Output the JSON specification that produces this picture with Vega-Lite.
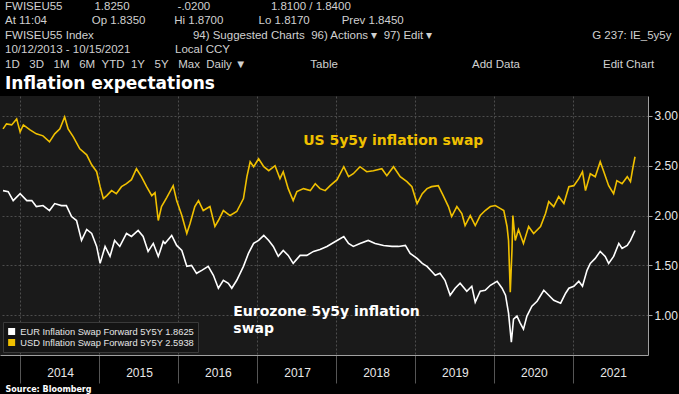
{
  "$schema": "https://vega.github.io/schema/vega-lite/v6.json",
  "width": 648,
  "height": 259,
  "autosize": {"type": "none"},
  "padding": {"left": 0, "top": 96, "right": 31, "bottom": 39},
  "background": "#000000",
  "view": {"fill": "#1a1a1a", "stroke": null},
  "title": {
    "text": [
      "\u00a0\u00a0FWISEU55\u00a0\u00a0\u00a0\u00a0\u00a0\u00a0\u00a0\u00a0\u00a0\u00a01.8250\u00a0\u00a0\u00a0\u00a0\u00a0\u00a0\u00a0\u00a0\u00a0\u00a0\u00a0\u00a0\u00a0\u00a0\u00a0-.0200\u00a0\u00a0\u00a0\u00a0\u00a0\u00a0\u00a0\u00a0\u00a0\u00a0\u00a0\u00a0\u00a0\u00a0\u00a0\u00a0\u00a0\u00a0\u00a01.8100 / 1.8400",
      "\u00a0\u00a0At 11:04\u00a0\u00a0\u00a0\u00a0\u00a0\u00a0\u00a0\u00a0\u00a0\u00a0\u00a0\u00a0\u00a0\u00a0Op 1.8350\u00a0\u00a0\u00a0\u00a0\u00a0\u00a0\u00a0\u00a0\u00a0Hi 1.8700\u00a0\u00a0\u00a0\u00a0\u00a0\u00a0\u00a0\u00a0\u00a0\u00a0\u00a0Lo 1.8170\u00a0\u00a0\u00a0\u00a0\u00a0\u00a0\u00a0\u00a0\u00a0\u00a0Prev 1.8450",
      "FWISEU55 Index\u00a0\u00a0\u00a0\u00a0\u00a0\u00a0\u00a0\u00a0\u00a0\u00a0\u00a0\u00a0\u00a0\u00a0\u00a0\u00a0\u00a0\u00a0\u00a0\u00a0\u00a0\u00a0\u00a0\u00a0\u00a0\u00a0\u00a0\u00a0\u00a0\u00a0\u00a094) Suggested Charts\u00a0\u00a096) Actions \u25be\u00a0\u00a097) Edit \u25be\u00a0\u00a0\u00a0\u00a0\u00a0\u00a0\u00a0\u00a0\u00a0\u00a0\u00a0\u00a0\u00a0\u00a0\u00a0\u00a0\u00a0\u00a0\u00a0\u00a0\u00a0\u00a0\u00a0\u00a0\u00a0\u00a0\u00a0\u00a0\u00a0\u00a0\u00a0\u00a0\u00a0\u00a0\u00a0\u00a0\u00a0\u00a0\u00a0\u00a0\u00a0\u00a0\u00a0\u00a0\u00a0\u00a0\u00a0\u00a0\u00a0\u00a0G 237: IE_5y5y",
      "10/12/2013 - 10/15/2021\u00a0\u00a0\u00a0\u00a0\u00a0\u00a0\u00a0\u00a0\u00a0\u00a0\u00a0\u00a0\u00a0\u00a0Local CCY",
      "\u00a01D\u00a0\u00a0\u00a03D\u00a0\u00a0\u00a01M\u00a0\u00a0\u00a06M\u00a0\u00a0YTD\u00a0\u00a01Y\u00a0\u00a0\u00a05Y\u00a0\u00a0\u00a0Max\u00a0\u00a0Daily \u25bc\u00a0\u00a0\u00a0\u00a0\u00a0\u00a0\u00a0\u00a0\u00a0\u00a0\u00a0\u00a0\u00a0\u00a0\u00a0\u00a0\u00a0\u00a0\u00a0\u00a0Table\u00a0\u00a0\u00a0\u00a0\u00a0\u00a0\u00a0\u00a0\u00a0\u00a0\u00a0\u00a0\u00a0\u00a0\u00a0\u00a0\u00a0\u00a0\u00a0\u00a0\u00a0\u00a0\u00a0\u00a0\u00a0\u00a0\u00a0\u00a0\u00a0\u00a0\u00a0\u00a0\u00a0\u00a0\u00a0\u00a0\u00a0\u00a0\u00a0\u00a0\u00a0\u00a0Add Data\u00a0\u00a0\u00a0\u00a0\u00a0\u00a0\u00a0\u00a0\u00a0\u00a0\u00a0\u00a0\u00a0\u00a0\u00a0\u00a0\u00a0\u00a0\u00a0\u00a0\u00a0\u00a0\u00a0\u00a0\u00a0\u00a0Edit Chart"
    ],
    "subtitle": "Inflation expectations",
    "anchor": "start",
    "frame": "group",
    "orient": "top",
    "offset": 4,
    "dx": 5,
    "font": "Liberation Sans",
    "fontSize": 11.5,
    "fontWeight": "normal",
    "color": "#d0d0d0",
    "lineHeight": 14.5,
    "subtitleFont": "DejaVu Sans",
    "subtitleFontSize": 17,
    "subtitleFontWeight": "bold",
    "subtitleColor": "#ffffff",
    "subtitlePadding": 6
  },
  "datasets": {
    "series": [
      {"series": "USD", "date": "2013-10-14", "value": 2.87},
      {"series": "USD", "date": "2013-10-30", "value": 2.92},
      {"series": "USD", "date": "2013-11-23", "value": 2.91},
      {"series": "USD", "date": "2013-12-16", "value": 2.97},
      {"series": "USD", "date": "2014-01-01", "value": 2.84},
      {"series": "USD", "date": "2014-01-16", "value": 2.91},
      {"series": "USD", "date": "2014-02-16", "value": 2.86},
      {"series": "USD", "date": "2014-03-17", "value": 2.82},
      {"series": "USD", "date": "2014-04-17", "value": 2.80},
      {"series": "USD", "date": "2014-05-17", "value": 2.74},
      {"series": "USD", "date": "2014-06-10", "value": 2.82},
      {"series": "USD", "date": "2014-07-04", "value": 2.87},
      {"series": "USD", "date": "2014-07-26", "value": 2.99},
      {"series": "USD", "date": "2014-08-11", "value": 2.87},
      {"series": "USD", "date": "2014-09-04", "value": 2.79},
      {"series": "USD", "date": "2014-10-04", "value": 2.67},
      {"series": "USD", "date": "2014-11-05", "value": 2.61},
      {"series": "USD", "date": "2014-11-28", "value": 2.51},
      {"series": "USD", "date": "2014-12-21", "value": 2.44},
      {"series": "USD", "date": "2015-01-06", "value": 2.29},
      {"series": "USD", "date": "2015-01-21", "value": 2.17},
      {"series": "USD", "date": "2015-02-06", "value": 2.20},
      {"series": "USD", "date": "2015-02-28", "value": 2.25},
      {"series": "USD", "date": "2015-03-22", "value": 2.22},
      {"series": "USD", "date": "2015-04-15", "value": 2.29},
      {"series": "USD", "date": "2015-05-08", "value": 2.32},
      {"series": "USD", "date": "2015-05-31", "value": 2.36},
      {"series": "USD", "date": "2015-06-23", "value": 2.47},
      {"series": "USD", "date": "2015-07-16", "value": 2.39},
      {"series": "USD", "date": "2015-08-09", "value": 2.29},
      {"series": "USD", "date": "2015-09-02", "value": 2.20},
      {"series": "USD", "date": "2015-09-17", "value": 2.23},
      {"series": "USD", "date": "2015-10-02", "value": 1.95},
      {"series": "USD", "date": "2015-10-17", "value": 2.09},
      {"series": "USD", "date": "2015-11-02", "value": 2.15},
      {"series": "USD", "date": "2015-11-10", "value": 2.18},
      {"series": "USD", "date": "2015-12-10", "value": 2.30},
      {"series": "USD", "date": "2015-12-26", "value": 2.15},
      {"series": "USD", "date": "2016-01-19", "value": 2.00},
      {"series": "USD", "date": "2016-02-11", "value": 1.82},
      {"series": "USD", "date": "2016-02-26", "value": 1.92},
      {"series": "USD", "date": "2016-03-19", "value": 2.09},
      {"series": "USD", "date": "2016-04-05", "value": 2.15},
      {"series": "USD", "date": "2016-04-27", "value": 2.05},
      {"series": "USD", "date": "2016-05-28", "value": 2.09},
      {"series": "USD", "date": "2016-06-20", "value": 1.89},
      {"series": "USD", "date": "2016-07-06", "value": 1.95},
      {"series": "USD", "date": "2016-07-29", "value": 2.05},
      {"series": "USD", "date": "2016-08-29", "value": 2.00},
      {"series": "USD", "date": "2016-09-29", "value": 2.04},
      {"series": "USD", "date": "2016-10-30", "value": 2.17},
      {"series": "USD", "date": "2016-11-15", "value": 2.39},
      {"series": "USD", "date": "2016-11-30", "value": 2.54},
      {"series": "USD", "date": "2016-12-16", "value": 2.49},
      {"series": "USD", "date": "2017-01-08", "value": 2.57},
      {"series": "USD", "date": "2017-02-01", "value": 2.49},
      {"series": "USD", "date": "2017-02-24", "value": 2.45},
      {"series": "USD", "date": "2017-03-25", "value": 2.50},
      {"series": "USD", "date": "2017-04-17", "value": 2.37},
      {"series": "USD", "date": "2017-05-02", "value": 2.44},
      {"series": "USD", "date": "2017-05-25", "value": 2.27},
      {"series": "USD", "date": "2017-06-17", "value": 2.15},
      {"series": "USD", "date": "2017-07-04", "value": 2.24},
      {"series": "USD", "date": "2017-08-04", "value": 2.27},
      {"series": "USD", "date": "2017-09-04", "value": 2.25},
      {"series": "USD", "date": "2017-09-27", "value": 2.32},
      {"series": "USD", "date": "2017-10-19", "value": 2.27},
      {"series": "USD", "date": "2017-11-12", "value": 2.25},
      {"series": "USD", "date": "2017-12-05", "value": 2.30},
      {"series": "USD", "date": "2018-01-06", "value": 2.36},
      {"series": "USD", "date": "2018-02-06", "value": 2.49},
      {"series": "USD", "date": "2018-02-28", "value": 2.39},
      {"series": "USD", "date": "2018-03-22", "value": 2.42},
      {"series": "USD", "date": "2018-04-22", "value": 2.49},
      {"series": "USD", "date": "2018-05-23", "value": 2.44},
      {"series": "USD", "date": "2018-06-23", "value": 2.45},
      {"series": "USD", "date": "2018-08-01", "value": 2.47},
      {"series": "USD", "date": "2018-08-24", "value": 2.40},
      {"series": "USD", "date": "2018-09-24", "value": 2.49},
      {"series": "USD", "date": "2018-10-25", "value": 2.39},
      {"series": "USD", "date": "2018-11-25", "value": 2.34},
      {"series": "USD", "date": "2018-12-18", "value": 2.29},
      {"series": "USD", "date": "2019-01-11", "value": 2.12},
      {"series": "USD", "date": "2019-02-04", "value": 2.22},
      {"series": "USD", "date": "2019-02-26", "value": 2.27},
      {"series": "USD", "date": "2019-03-19", "value": 2.29},
      {"series": "USD", "date": "2019-04-19", "value": 2.30},
      {"series": "USD", "date": "2019-05-12", "value": 2.20},
      {"series": "USD", "date": "2019-06-05", "value": 2.09},
      {"series": "USD", "date": "2019-06-20", "value": 1.99},
      {"series": "USD", "date": "2019-07-14", "value": 2.09},
      {"series": "USD", "date": "2019-08-06", "value": 2.02},
      {"series": "USD", "date": "2019-08-21", "value": 1.90},
      {"series": "USD", "date": "2019-09-14", "value": 2.00},
      {"series": "USD", "date": "2019-10-07", "value": 1.90},
      {"series": "USD", "date": "2019-10-30", "value": 2.00},
      {"series": "USD", "date": "2019-11-22", "value": 2.05},
      {"series": "USD", "date": "2019-12-16", "value": 2.09},
      {"series": "USD", "date": "2020-01-08", "value": 2.10},
      {"series": "USD", "date": "2020-02-01", "value": 2.07},
      {"series": "USD", "date": "2020-02-16", "value": 2.05},
      {"series": "USD", "date": "2020-03-02", "value": 1.89},
      {"series": "USD", "date": "2020-03-09", "value": 1.75},
      {"series": "USD", "date": "2020-03-17", "value": 1.23},
      {"series": "USD", "date": "2020-03-25", "value": 1.66},
      {"series": "USD", "date": "2020-03-29", "value": 2.00},
      {"series": "USD", "date": "2020-04-09", "value": 1.75},
      {"series": "USD", "date": "2020-04-24", "value": 1.86},
      {"series": "USD", "date": "2020-05-17", "value": 1.72},
      {"series": "USD", "date": "2020-06-10", "value": 1.89},
      {"series": "USD", "date": "2020-07-03", "value": 1.82},
      {"series": "USD", "date": "2020-08-04", "value": 1.89},
      {"series": "USD", "date": "2020-08-27", "value": 2.02},
      {"series": "USD", "date": "2020-09-11", "value": 2.14},
      {"series": "USD", "date": "2020-10-04", "value": 2.09},
      {"series": "USD", "date": "2020-10-27", "value": 2.19},
      {"series": "USD", "date": "2020-11-20", "value": 2.12},
      {"series": "USD", "date": "2020-12-13", "value": 2.29},
      {"series": "USD", "date": "2021-01-05", "value": 2.30},
      {"series": "USD", "date": "2021-01-28", "value": 2.37},
      {"series": "USD", "date": "2021-02-14", "value": 2.44},
      {"series": "USD", "date": "2021-02-28", "value": 2.25},
      {"series": "USD", "date": "2021-03-22", "value": 2.42},
      {"series": "USD", "date": "2021-04-14", "value": 2.39},
      {"series": "USD", "date": "2021-05-07", "value": 2.54},
      {"series": "USD", "date": "2021-05-22", "value": 2.45},
      {"series": "USD", "date": "2021-06-15", "value": 2.30},
      {"series": "USD", "date": "2021-07-08", "value": 2.22},
      {"series": "USD", "date": "2021-07-23", "value": 2.35},
      {"series": "USD", "date": "2021-08-16", "value": 2.32},
      {"series": "USD", "date": "2021-09-09", "value": 2.39},
      {"series": "USD", "date": "2021-09-24", "value": 2.34},
      {"series": "USD", "date": "2021-10-06", "value": 2.49},
      {"series": "USD", "date": "2021-10-15", "value": 2.59},
      {"series": "EUR", "date": "2013-10-14", "value": 2.25},
      {"series": "EUR", "date": "2013-11-07", "value": 2.24},
      {"series": "EUR", "date": "2013-11-30", "value": 2.15},
      {"series": "EUR", "date": "2014-01-01", "value": 2.22},
      {"series": "EUR", "date": "2014-02-01", "value": 2.15},
      {"series": "EUR", "date": "2014-02-24", "value": 2.15},
      {"series": "EUR", "date": "2014-03-17", "value": 2.09},
      {"series": "EUR", "date": "2014-04-17", "value": 2.10},
      {"series": "EUR", "date": "2014-05-17", "value": 2.05},
      {"series": "EUR", "date": "2014-06-10", "value": 2.12},
      {"series": "EUR", "date": "2014-07-11", "value": 2.10},
      {"series": "EUR", "date": "2014-08-03", "value": 2.10},
      {"series": "EUR", "date": "2014-08-27", "value": 1.99},
      {"series": "EUR", "date": "2014-09-19", "value": 1.95},
      {"series": "EUR", "date": "2014-10-12", "value": 1.75},
      {"series": "EUR", "date": "2014-11-05", "value": 1.86},
      {"series": "EUR", "date": "2014-11-28", "value": 1.82},
      {"series": "EUR", "date": "2014-12-21", "value": 1.69},
      {"series": "EUR", "date": "2015-01-06", "value": 1.52},
      {"series": "EUR", "date": "2015-01-29", "value": 1.69},
      {"series": "EUR", "date": "2015-02-21", "value": 1.59},
      {"series": "EUR", "date": "2015-03-14", "value": 1.75},
      {"series": "EUR", "date": "2015-04-07", "value": 1.69},
      {"series": "EUR", "date": "2015-05-08", "value": 1.82},
      {"series": "EUR", "date": "2015-05-31", "value": 1.79},
      {"series": "EUR", "date": "2015-07-01", "value": 1.85},
      {"series": "EUR", "date": "2015-07-24", "value": 1.79},
      {"series": "EUR", "date": "2015-08-16", "value": 1.64},
      {"series": "EUR", "date": "2015-09-09", "value": 1.72},
      {"series": "EUR", "date": "2015-10-02", "value": 1.59},
      {"series": "EUR", "date": "2015-10-10", "value": 1.64},
      {"series": "EUR", "date": "2015-10-25", "value": 1.74},
      {"series": "EUR", "date": "2015-11-02", "value": 1.72},
      {"series": "EUR", "date": "2015-12-03", "value": 1.80},
      {"series": "EUR", "date": "2015-12-26", "value": 1.70},
      {"series": "EUR", "date": "2016-01-19", "value": 1.65},
      {"series": "EUR", "date": "2016-02-11", "value": 1.49},
      {"series": "EUR", "date": "2016-03-04", "value": 1.50},
      {"series": "EUR", "date": "2016-03-27", "value": 1.42},
      {"series": "EUR", "date": "2016-04-20", "value": 1.45},
      {"series": "EUR", "date": "2016-05-20", "value": 1.49},
      {"series": "EUR", "date": "2016-06-13", "value": 1.40},
      {"series": "EUR", "date": "2016-07-06", "value": 1.27},
      {"series": "EUR", "date": "2016-07-29", "value": 1.35},
      {"series": "EUR", "date": "2016-08-21", "value": 1.32},
      {"series": "EUR", "date": "2016-09-06", "value": 1.27},
      {"series": "EUR", "date": "2016-09-29", "value": 1.35},
      {"series": "EUR", "date": "2016-10-30", "value": 1.49},
      {"series": "EUR", "date": "2016-11-22", "value": 1.62},
      {"series": "EUR", "date": "2016-12-16", "value": 1.72},
      {"series": "EUR", "date": "2017-01-08", "value": 1.75},
      {"series": "EUR", "date": "2017-02-01", "value": 1.80},
      {"series": "EUR", "date": "2017-02-24", "value": 1.75},
      {"series": "EUR", "date": "2017-03-17", "value": 1.69},
      {"series": "EUR", "date": "2017-04-09", "value": 1.59},
      {"series": "EUR", "date": "2017-05-02", "value": 1.65},
      {"series": "EUR", "date": "2017-05-25", "value": 1.60},
      {"series": "EUR", "date": "2017-06-17", "value": 1.52},
      {"series": "EUR", "date": "2017-07-19", "value": 1.60},
      {"series": "EUR", "date": "2017-08-19", "value": 1.60},
      {"series": "EUR", "date": "2017-09-19", "value": 1.64},
      {"series": "EUR", "date": "2017-10-19", "value": 1.66},
      {"series": "EUR", "date": "2017-11-20", "value": 1.69},
      {"series": "EUR", "date": "2017-12-29", "value": 1.74},
      {"series": "EUR", "date": "2018-02-06", "value": 1.79},
      {"series": "EUR", "date": "2018-02-28", "value": 1.72},
      {"series": "EUR", "date": "2018-03-22", "value": 1.69},
      {"series": "EUR", "date": "2018-04-22", "value": 1.72},
      {"series": "EUR", "date": "2018-05-30", "value": 1.75},
      {"series": "EUR", "date": "2018-07-01", "value": 1.72},
      {"series": "EUR", "date": "2018-08-09", "value": 1.70},
      {"series": "EUR", "date": "2018-09-17", "value": 1.69},
      {"series": "EUR", "date": "2018-10-17", "value": 1.69},
      {"series": "EUR", "date": "2018-11-18", "value": 1.70},
      {"series": "EUR", "date": "2018-12-10", "value": 1.62},
      {"series": "EUR", "date": "2019-01-11", "value": 1.57},
      {"series": "EUR", "date": "2019-02-04", "value": 1.52},
      {"series": "EUR", "date": "2019-02-26", "value": 1.49},
      {"series": "EUR", "date": "2019-03-19", "value": 1.44},
      {"series": "EUR", "date": "2019-04-05", "value": 1.40},
      {"series": "EUR", "date": "2019-04-27", "value": 1.42},
      {"series": "EUR", "date": "2019-05-20", "value": 1.35},
      {"series": "EUR", "date": "2019-06-13", "value": 1.20},
      {"series": "EUR", "date": "2019-07-06", "value": 1.27},
      {"series": "EUR", "date": "2019-07-29", "value": 1.32},
      {"series": "EUR", "date": "2019-08-29", "value": 1.24},
      {"series": "EUR", "date": "2019-09-21", "value": 1.29},
      {"series": "EUR", "date": "2019-10-07", "value": 1.13},
      {"series": "EUR", "date": "2019-10-30", "value": 1.24},
      {"series": "EUR", "date": "2019-11-22", "value": 1.25},
      {"series": "EUR", "date": "2019-12-16", "value": 1.30},
      {"series": "EUR", "date": "2020-01-16", "value": 1.34},
      {"series": "EUR", "date": "2020-02-08", "value": 1.27},
      {"series": "EUR", "date": "2020-02-24", "value": 1.20},
      {"series": "EUR", "date": "2020-03-09", "value": 1.02},
      {"series": "EUR", "date": "2020-03-22", "value": 0.73},
      {"series": "EUR", "date": "2020-04-01", "value": 0.96},
      {"series": "EUR", "date": "2020-04-17", "value": 0.99},
      {"series": "EUR", "date": "2020-05-02", "value": 0.92},
      {"series": "EUR", "date": "2020-05-17", "value": 0.86},
      {"series": "EUR", "date": "2020-06-02", "value": 0.99},
      {"series": "EUR", "date": "2020-06-25", "value": 1.09},
      {"series": "EUR", "date": "2020-07-19", "value": 1.14},
      {"series": "EUR", "date": "2020-08-19", "value": 1.25},
      {"series": "EUR", "date": "2020-09-11", "value": 1.20},
      {"series": "EUR", "date": "2020-10-04", "value": 1.15},
      {"series": "EUR", "date": "2020-11-05", "value": 1.12},
      {"series": "EUR", "date": "2020-11-28", "value": 1.22},
      {"series": "EUR", "date": "2020-12-13", "value": 1.27},
      {"series": "EUR", "date": "2021-01-05", "value": 1.29},
      {"series": "EUR", "date": "2021-01-28", "value": 1.34},
      {"series": "EUR", "date": "2021-02-14", "value": 1.29},
      {"series": "EUR", "date": "2021-03-07", "value": 1.45},
      {"series": "EUR", "date": "2021-03-22", "value": 1.52},
      {"series": "EUR", "date": "2021-04-14", "value": 1.57},
      {"series": "EUR", "date": "2021-05-07", "value": 1.64},
      {"series": "EUR", "date": "2021-05-30", "value": 1.59},
      {"series": "EUR", "date": "2021-06-15", "value": 1.52},
      {"series": "EUR", "date": "2021-07-08", "value": 1.59},
      {"series": "EUR", "date": "2021-08-01", "value": 1.72},
      {"series": "EUR", "date": "2021-08-16", "value": 1.67},
      {"series": "EUR", "date": "2021-09-09", "value": 1.70},
      {"series": "EUR", "date": "2021-09-24", "value": 1.75},
      {"series": "EUR", "date": "2021-10-15", "value": 1.85}
    ],
    "notes": [
      {"series": "USD", "date": "2017-08-02", "value": 2.816, "label": "US 5y5y inflation swap"},
      {"series": "EUR", "date": "2016-09-13", "value": 1.101, "label": "Eurozone 5y5y inflation\nswap"}
    ]
  },
  "layer": [
    {
      "data": {"name": "series"},
      "mark": {"type": "line", "strokeWidth": 1.6, "clip": true},
      "encoding": {
        "x": {
          "field": "date",
          "type": "temporal",
          "scale": {"domain": ["2013-09-30", "2021-12-14"]},
          "axis": {
            "values": ["2014-01-01", "2015-01-01", "2016-01-01", "2017-01-01", "2018-01-01", "2019-01-01", "2020-01-01", "2021-01-01"],
            "format": "%Y",
            "labelOffset": 40,
            "labelAlign": "center",
            "labelOverlap": false,
            "labelFlush": false,
            "labelBound": false,
            "labelColor": "#e8e8e8",
            "labelFont": "Liberation Sans",
            "labelFontSize": 12,
            "labelPadding": -16,
            "tickSize": 28,
            "tickColor": "#555555",
            "tickWidth": 1,
            "domainColor": "#a0a0a0",
            "grid": true,
            "gridColor": "#4d4d4d",
            "gridDash": [2, 2],
            "title": "Source: Bloomberg",
            "titleAnchor": "start",
            "titleAlign": "left",
            "titleBaseline": "middle",
            "titleX": 5,
            "titleY": 34,
            "titleFont": "DejaVu Sans",
            "titleFontSize": 8,
            "titleFontWeight": "bold",
            "titleColor": "#ffffff"
          }
        },
        "y": {
          "field": "value",
          "type": "quantitative",
          "scale": {"domain": [0.6, 3.2], "nice": false, "zero": false},
          "axis": {
            "orient": "right",
            "values": [1.0, 1.5, 2.0, 2.5, 3.0],
            "format": ".2f",
            "labelOverlap": false,
            "labelColor": "#e8e8e8",
            "labelFont": "Liberation Sans",
            "labelFontSize": 12,
            "labelPadding": 2,
            "tickSize": 4,
            "tickColor": "#a0a0a0",
            "domainColor": "#a0a0a0",
            "grid": true,
            "gridColor": "#4d4d4d",
            "gridDash": [2, 2],
            "title": null
          }
        },
        "color": {
          "field": "series",
          "type": "nominal",
          "scale": {"domain": ["EUR", "USD"], "range": ["#ffffff", "#f0c000"]},
          "legend": {
            "orient": "bottom-left",
            "offset": 3,
            "title": null,
            "labelExpr": "datum.label == 'EUR' ? 'EUR Inflation Swap Forward 5Y5Y 1.8625' : 'USD Inflation Swap Forward 5Y5Y 2.5938'",
            "labelColor": "#e6e6e6",
            "labelFont": "Liberation Sans",
            "labelFontSize": 9.3,
            "labelLimit": 400,
            "symbolType": "square",
            "symbolSize": 16,
            "symbolStrokeWidth": 3,
            "symbolOffset": 0,
            "clipHeight": 11,
            "rowPadding": 0,
            "padding": 4,
            "fillColor": "#141414",
            "strokeColor": "#3a3a3a"
          }
        }
      }
    },
    {
      "data": {"name": "notes"},
      "mark": {"type": "text", "font": "DejaVu Sans", "fontWeight": "bold", "fontSize": 14, "align": "left", "baseline": "top", "lineHeight": 17, "lineBreak": "\n"},
      "encoding": {
        "x": {"field": "date", "type": "temporal"},
        "y": {"field": "value", "type": "quantitative"},
        "text": {"field": "label"},
        "color": {"field": "series", "type": "nominal"}
      }
    }
  ]
}
